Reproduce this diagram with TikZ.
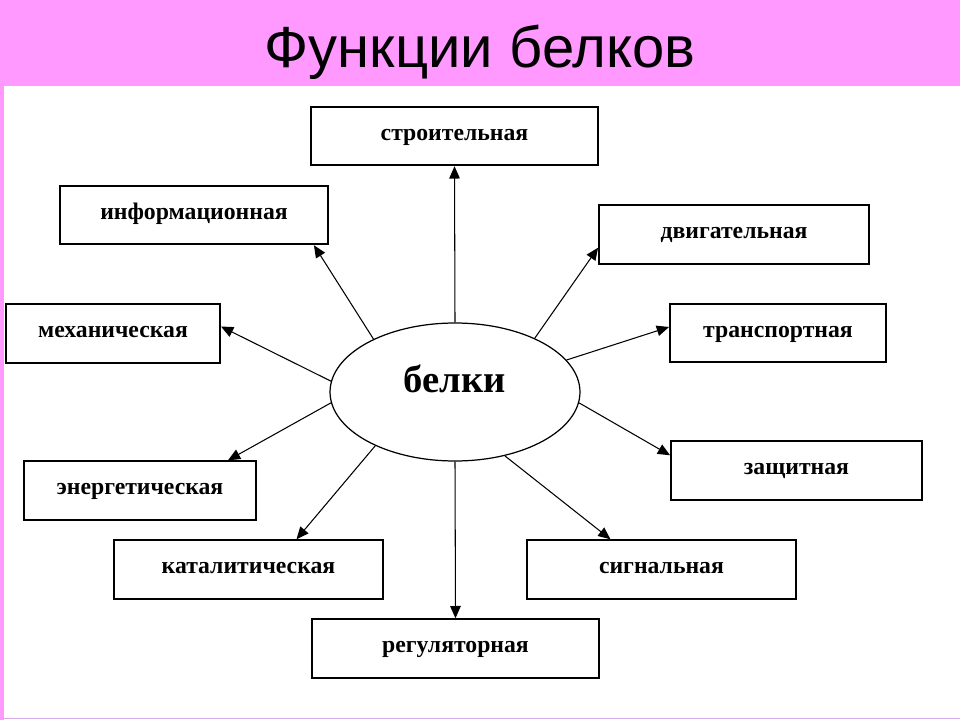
\documentclass[tikz,border=0pt]{standalone}
\usepackage{fontspec}
\setmainfont{Liberation Serif}
\newfontfamily\titlefont{Liberation Sans}
\usetikzlibrary{calc,shapes.geometric,arrows.meta}
\definecolor{slidepink}{RGB}{255,153,255}
\definecolor{edgelilac}{RGB}{214,170,230}

\tikzset{
	fbox/.style={draw,line width=1.1pt,inner sep=0pt,minimum height=1.17cm,text height=10.5pt,text depth=5.5pt,font=\fontsize{13.5}{16}\selectfont\bfseries},
	farrow/.style={->,line width=0.6pt}
}

\begin{document}
\begin{tikzpicture}[x=0.02cm,y=-0.02cm,>={Triangle[length=7pt,width=6pt]}]

	\fill[white] (0,0) rectangle (960,720);
	\useasboundingbox (0,0) rectangle (960,720);
	\fill[slidepink] (0,0) rectangle (960,86);
	\fill[slidepink] (0,86) rectangle (4,720);
	\draw[edgelilac,line width=1pt] (4,718.5) -- (960,718.5);

	\node[anchor=base,font=\titlefont\fontsize{33}{40}\selectfont] (title) at (480,67) {Функции белков};

	\node[ellipse,draw,line width=0.7pt,minimum width=5cm,minimum height=2.76cm,inner sep=0pt,text height=14pt,text depth=14pt,font=\fontsize{22}{26}\selectfont\bfseries] (bel) at (455,392) {белки};

	\node[fbox,minimum width=5.74cm] (stroit) at (454.5,136) {строительная};
	\node[fbox,minimum width=5.36cm] (inform) at (194,215) {информационная};
	\node[fbox,minimum width=5.40cm] (dvig) at (734,234.5) {двигательная};
	\node[fbox,minimum width=4.28cm] (mekh) at (113,333.5) {механическая};
	\node[fbox,minimum width=4.32cm] (transp) at (778,333) {транспортная};
	\node[fbox,minimum width=5.02cm] (zashch) at (796.5,470.5) {защитная};
	\node[fbox,minimum width=4.64cm] (energ) at (140,490.5) {энергетическая};
	\node[fbox,minimum width=5.38cm] (katal) at (248.5,569.5) {каталитическая};
	\node[fbox,minimum width=5.38cm] (signal) at (661.5,569.5) {сигнальная};
	\node[fbox,minimum width=5.74cm] (regul) at (455.5,648.5) {регуляторная};

	\draw[farrow] (bel.north) -- (stroit.south);
	\draw[farrow] (bel.147) -- ($(inform.south east)+(-15,0)$);
	\draw[farrow] (bel.34) -- ($(dvig.south west)+(0,-17)$);
	\draw[farrow] (bel.175) -- ($(mekh.east)+(0,-7)$);
	\draw[farrow] (bel.16) -- ($(transp.west)+(0,-6)$);
	\draw[farrow] (bel.355) -- ($(zashch.north west)+(0,15)$);
	\draw[farrow] (bel.185) -- ($(energ.north east)+(-29,0)$);
	\draw[farrow] (bel.214) -- ($(katal.north)+(48,0)$);
	\draw[farrow] (bel.308) -- ($(signal.north)+(-51,0)$);
	\draw[farrow] (bel.south) -- (regul.north);

\end{tikzpicture}
\end{document}
